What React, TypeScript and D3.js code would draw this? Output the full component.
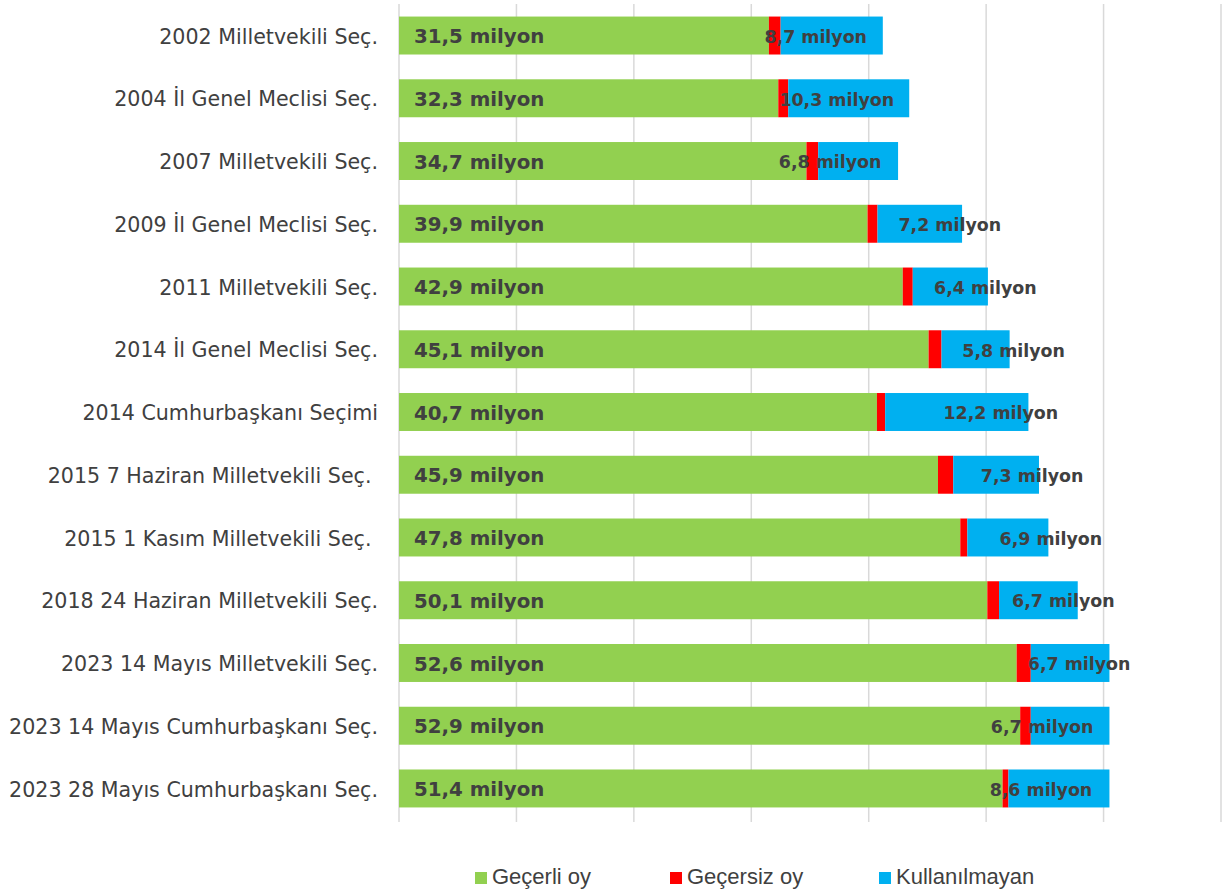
import React from "react";
import * as d3 from "d3";

const categories = [
  "2002 Milletvekili Seç.",
  "2004 İl Genel Meclisi Seç.",
  "2007 Milletvekili Seç.",
  "2009 İl Genel Meclisi Seç.",
  "2011 Milletvekili Seç.",
  "2014 İl Genel Meclisi Seç.",
  "2014 Cumhurbaşkanı Seçimi",
  "2015 7 Haziran Milletvekili Seç. ",
  "2015 1 Kasım Milletvekili Seç. ",
  "2018 24 Haziran Milletvekili Seç.",
  "2023 14 Mayıs Milletvekili Seç.",
  "2023 14 Mayıs Cumhurbaşkanı Seç.",
  "2023 28 Mayıs Cumhurbaşkanı Seç.",
];
const valid = [31.5, 32.3, 34.7, 39.9, 42.9, 45.1, 40.7, 45.9, 47.8, 50.1, 52.6, 52.9, 51.4];
const invalid = [1.0, 0.85, 1.0, 0.85, 0.85, 1.1, 0.7, 1.3, 0.6, 1.0, 1.2, 0.9, 0.5];
const unused = [8.7, 10.3, 6.8, 7.2, 6.4, 5.8, 12.2, 7.3, 6.9, 6.7, 6.7, 6.7, 8.6];
const xTicks = [0, 10, 20, 30, 40, 50, 60, 70];
const seriesNames = ["Geçerli oy", "Geçersiz oy", "Kullanılmayan"];
const seriesColors = ["#92D050", "#FF0000", "#00B0F0"];
// manual label nudges (px) for "Kullanılmayan" labels, as placed in the original
const unusedLabelShift = [-16, -12, -28, 30, 35, 38, 44, 36, 43, 25, 9, -28, -18];

const fmt = (v: number) => v.toFixed(1).replace(".", ",") + " milyon";

export default function App() {
  const W = 1224;
  const H = 893;
  const x = d3.scaleLinear().domain([0, 70]).range([399, 1221]);
  const y = d3
    .scaleBand<string>()
    .domain(categories)
    .range([4, 820])
    .paddingInner(0.395)
    .paddingOuter(0.2);

  const labelFont = "'DejaVu Sans', sans-serif";
  const catFont = "'DejaVu Sans', sans-serif";
  const legendFont = "'Liberation Sans', Arial, sans-serif";
  const textColor = "#404040";

  const legendX = [475, 670, 879];

  return (
    <svg
      width={W}
      height={H}
      style={{ position: "absolute", left: 0, top: 0, background: "#fff" }}
    >
      {xTicks.map((t) => (
        <line
          key={t}
          x1={x(t)}
          x2={x(t)}
          y1={4}
          y2={822}
          stroke="#D9D9D9"
          strokeWidth={1.5}
        />
      ))}
      {categories.map((c, i) => {
        const y0 = y(c)!;
        const bh = y.bandwidth();
        const cy = y0 + bh / 2;
        const s0 = 0;
        const s1 = valid[i];
        const s2 = s1 + invalid[i];
        const s3 = s2 + unused[i];
        return (
          <g key={c}>
            <rect x={x(s0)} y={y0} width={x(s1) - x(s0)} height={bh} fill={seriesColors[0]} />
            <rect x={x(s1)} y={y0} width={x(s2) - x(s1)} height={bh} fill={seriesColors[1]} />
            <rect x={x(s2)} y={y0} width={x(s3) - x(s2)} height={bh} fill={seriesColors[2]} />
            <text
              x={378}
              y={cy + 1}
              dy="0.35em"
              textAnchor="end"
              fontFamily={catFont}
              fontSize={20.6}
              fill={textColor}
              style={{ whiteSpace: "pre" }}
            >
              {c}
            </text>
            <text
              x={x(0) + 15}
              y={cy + 0.5}
              dy="0.36em"
              fontFamily={labelFont}
              fontWeight="bold"
              fontSize={19.8}
              fill={textColor}
            >
              {fmt(valid[i])}
            </text>
            <text
              x={(x(s2) + x(s3)) / 2 + unusedLabelShift[i]}
              y={cy + 1}
              dy="0.36em"
              textAnchor="middle"
              fontFamily={labelFont}
              fontWeight="bold"
              fontSize={17.4}
              fill={textColor}
            >
              {fmt(unused[i])}
            </text>
          </g>
        );
      })}
      {seriesNames.map((n, i) => (
        <g key={n}>
          <rect x={legendX[i]} y={872} width={12} height={12} fill={seriesColors[i]} />
          <text
            x={legendX[i] + 17}
            y={884}
            fontFamily={legendFont}
            fontSize={22}
            fill={textColor}
          >
            {n}
          </text>
        </g>
      ))}
    </svg>
  );
}
